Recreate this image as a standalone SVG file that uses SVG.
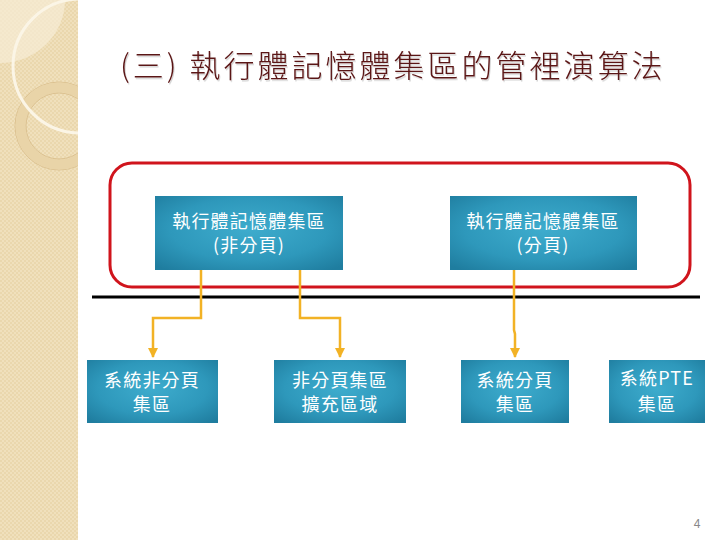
<svg xmlns="http://www.w3.org/2000/svg" width="720" height="540" viewBox="0 0 720 540">
<defs>
<pattern id="chk" width="4" height="4" patternUnits="userSpaceOnUse">
<rect width="4" height="4" fill="#f0e0bc"/>
<rect width="2" height="2" fill="#ead7ad"/>
<rect x="2" y="2" width="2" height="2" fill="#ead7ad"/>
</pattern>
<clipPath id="band"><rect x="0" y="0" width="78" height="540"/></clipPath>
<radialGradient id="boxg" cx="50%" cy="45%" r="70%">
<stop offset="0" stop-color="#3eaccd"/>
<stop offset="0.6" stop-color="#2e98bb"/>
<stop offset="1" stop-color="#1f7d9f"/>
</radialGradient>
<marker id="arr" viewBox="0 0 10 10" refX="9" refY="5" markerWidth="4" markerHeight="4" orient="auto" markerUnits="strokeWidth">
<path d="M0,0 L10,5 L0,10 z" fill="#f2b225"/>
</marker>
<filter id="sh" x="-5%" y="-20%" width="110%" height="150%">
<feDropShadow dx="1" dy="1.5" stdDeviation="0.6" flood-color="#000" flood-opacity="0.18"/>
</filter>
</defs>
<style>
.box{fill:url(#boxg);}
.bt{font-family:"Noto Sans CJK TC","Noto Sans CJK SC",sans-serif;font-size:18px;fill:#ffffff;text-anchor:middle;letter-spacing:1.2px;}
.con{fill:none;stroke:#f2b225;stroke-width:2.5;}
</style>
<rect width="720" height="540" fill="#ffffff"/>
<g id="background" clip-path="url(#band)">
<rect x="0" y="0" width="78" height="540" fill="url(#chk)"/>
<path d="M0,0 H65 A65,63 0 0 1 0,63 Z" fill="#f6ecd6" opacity="0.7"/>
<circle cx="59" cy="126" r="44" fill="none" stroke="#dcc291" stroke-width="1"/>
<circle cx="59" cy="126" r="38.5" fill="none" stroke="#e9d4a8" stroke-width="10"/>
<circle cx="59" cy="126" r="33" fill="none" stroke="#dcc291" stroke-width="1"/>
<circle cx="80" cy="66" r="67" fill="none" stroke="#fbf5e6" stroke-width="3"/>
</g>
<text x="120" y="77" font-family="&quot;Noto Sans CJK TC&quot;,&quot;Noto Sans CJK SC&quot;,sans-serif" font-size="31" font-weight="300" fill="#5a1414" filter="url(#sh)" letter-spacing="3">(三) 執行體記憶體集區的管裡演算法</text>
<rect x="110" y="163" width="580" height="124" rx="22" fill="none" stroke="#d0141c" stroke-width="3"/>
<line x1="92" y1="297" x2="700" y2="297" stroke="#000" stroke-width="3"/>
<g id="connectors">
<path class="con" d="M201,270 V318 H153 V357" marker-end="url(#arr)"/>
<path class="con" d="M300,270 V318 H340 V357" marker-end="url(#arr)"/>
<path class="con" d="M514,270 V330 L515,334 V357" marker-end="url(#arr)"/>
</g>
<g id="n1"><rect class="box" x="155" y="196" width="188" height="74"/><text class="bt" x="249" y="228">執行體記憶體集區</text><text class="bt" x="249" y="252">(非分頁)</text></g>
<g id="n2"><rect class="box" x="450" y="196" width="187" height="74"/><text class="bt" x="543" y="228">執行體記憶體集區</text><text class="bt" x="543" y="252">(分頁)</text></g>
<g id="n3"><rect class="box" x="87" y="360" width="131" height="63"/><text class="bt" x="152" y="387">系統非分頁</text><text class="bt" x="152" y="411">集區</text></g>
<g id="n4"><rect class="box" x="274" y="360" width="132" height="63"/><text class="bt" x="340" y="387">非分頁集區</text><text class="bt" x="340" y="411">擴充區域</text></g>
<g id="n5"><rect class="box" x="461" y="360" width="108" height="63"/><text class="bt" x="515" y="387">系統分頁</text><text class="bt" x="515" y="411">集區</text></g>
<g id="n6"><rect class="box" x="609" y="360" width="96" height="63"/><text class="bt" x="657" y="385">系統PTE</text><text class="bt" x="657" y="411">集區</text></g>
<text x="697" y="528" font-family="&quot;Liberation Sans&quot;,sans-serif" font-size="12" fill="#888" text-anchor="middle">4</text>
</svg>
